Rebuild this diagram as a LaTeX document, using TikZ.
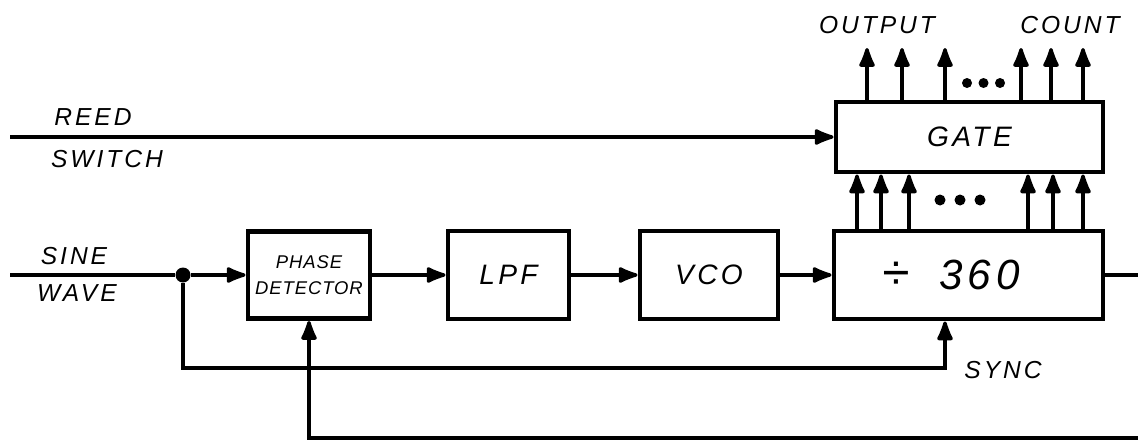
\documentclass[tikz,border=0pt]{standalone}
\usepackage{fontspec}
\usepackage{tikz}
\usetikzlibrary{arrows.meta}
\newfontfamily\manoscritto[LetterSpace=12]{Liberation Sans}

\begin{document}
\begin{tikzpicture}[>={Latex[length=4.8mm,width=3.6mm,round]},
  blocco/.style={draw, line width=2.8pt, inner sep=0pt,
    font=\manoscritto\itshape\fontsize{16}{18}\selectfont},
  filo/.style={line width=1.9pt},
  etichetta/.style={font=\manoscritto\itshape\fontsize{14}{16}\selectfont}]
  \useasboundingbox (0,0) rectangle (22.76,-8.86);

  % Blocchi
  \node[blocco, minimum width=2.44cm, minimum height=1.74cm, align=center,
    font=\manoscritto\itshape\addfontfeature{LetterSpace=5}\fontsize{10.5}{15}\selectfont] (pd) at (6.18,-5.5) {PHASE\\DETECTOR};
  \node[blocco, minimum width=2.42cm, minimum height=1.76cm] (lpf) at (10.17,-5.5) {LPF};
  \node[blocco, minimum width=2.76cm, minimum height=1.76cm] (vco) at (14.18,-5.5) {VCO};
  \node[blocco, minimum width=5.38cm, minimum height=1.76cm] (div) at (19.37,-5.5)
    {{\fontsize{28}{28}\selectfont ÷}\hspace{0.6cm}{\fontsize{24}{26}\selectfont 360}\kern0.7cm};
  \node[blocco, minimum width=5.34cm, minimum height=1.4cm] (gate) at (19.39,-2.74) {GATE};

  % Ingressi
  \coordinate (reed) at (0.2,-2.74);
  \coordinate (sine) at (0.2,-5.5);
  \node[circle, fill, inner sep=0pt, minimum size=0.3cm] (nodo) at (3.66,-5.5) {};
  \node[etichetta] (reedlbl) at (1.86,-2.34) {REED};
  \node[etichetta] (switchlbl) at (2.14,-3.18) {SWITCH};
  \node[etichetta] (sinelbl) at (1.48,-5.12) {SINE};
  \node[etichetta] (wavelbl) at (1.54,-5.86) {WAVE};

  % Catena principale
  \draw[filo,->] (reed) -- (gate.west);
  \draw[filo] (sine) -- (nodo);
  \draw[filo,->] (nodo) -- (pd.west);
  \draw[filo,->] (pd) -- (lpf);
  \draw[filo,->] (lpf) -- (vco);
  \draw[filo,->] (vco) -- (div);

  % Uscita del divisore e ritorno
  \coordinate (outR) at (22.76,-5.5);
  \coordinate (retR) at (22.76,-8.76);
  \draw[filo] (div.east) -- (outR);
  \draw[filo,->] (retR) -| (pd.south);

  % Sincronismo
  \coordinate (syncpt) at (18.9,-7.36);
  \draw[filo,->] (nodo) |- (syncpt) -- (syncpt |- div.south);
  \node[etichetta] (synclbl) at (20.06,-7.4) {SYNC};

  % Bus tra divisore e gate
  \foreach \x in {17.14,17.62,18.18,20.56,21.06,21.66}
    \draw[filo,->] (\x,0 |- div.north) -- (\x,0 |- gate.south);
  \foreach \x in {18.8,19.2,19.6}
    \fill (\x,-4) circle (0.11);

  % Uscite del conteggio
  \foreach \x in {17.34,18.04,18.9,20.42,21.02,21.66}
    \draw[filo,->] (\x,0 |- gate.north) -- (\x,-0.96);
  \foreach \x in {19.34,19.67,20.0}
    \fill (\x,-1.66) circle (0.1);
  \node[etichetta] (outlbl) at (17.54,-0.5) {OUTPUT};
  \node[etichetta] (countlbl) at (21.4,-0.5) {COUNT};
\end{tikzpicture}
\end{document}
